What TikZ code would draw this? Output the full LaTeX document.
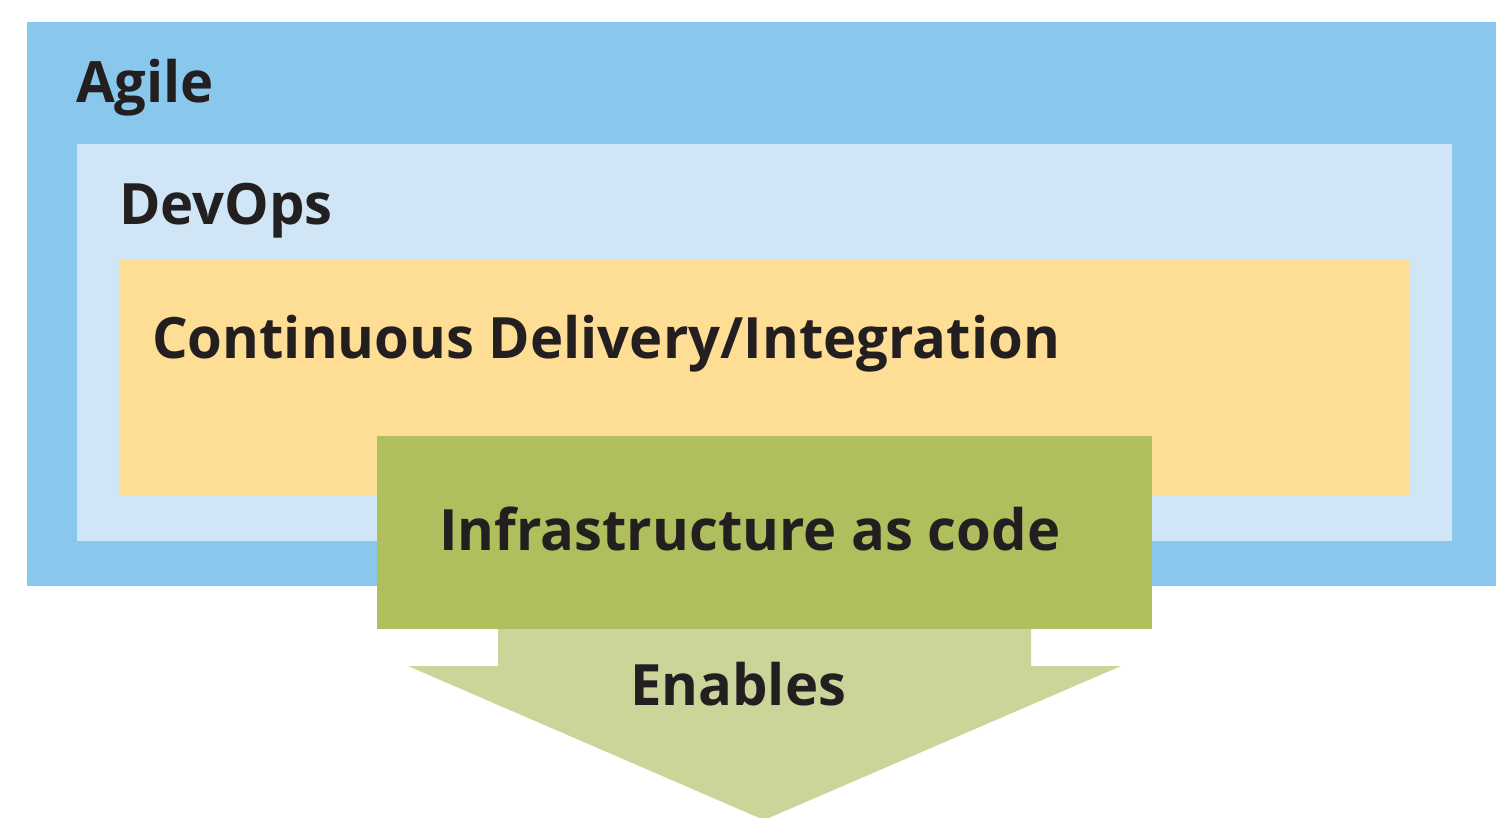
\documentclass[tikz,border=0pt]{standalone}
\usepackage{fontspec}
\setmainfont{Open Sans}[BoldFont={* Bold}]
\definecolor{agileblue}{HTML}{8AC7EC}
\definecolor{devopsblue}{HTML}{D0E6F6}
\definecolor{cdyellow}{HTML}{FEDD95}
\definecolor{iacgreen}{HTML}{B0BF5D}
\definecolor{arrowgreen}{HTML}{CBD59A}
\definecolor{ink}{HTML}{231F20}
\tikzset{
  label text/.style={anchor=base west, inner sep=0pt, text=ink,
    font=\fontsize{57}{68}\selectfont\bfseries, xscale=0.985}
}
\begin{document}
\begin{tikzpicture}[x=1pt,y=-1pt]
  \useasboundingbox (0,0) rectangle (1496,817);
  % nested layers
  \fill[agileblue]  (27,22)   rectangle (1496,586);
  \fill[devopsblue] (77,144)  rectangle (1452,541);
  \fill[cdyellow]   (119,260) rectangle (1410,496);
  % "enables" arrow
  \fill[arrowgreen] (498,620) -- (1031,620) -- (1031,666) -- (1121,666)
    -- (764,820) -- (408,666) -- (498,666) -- cycle;
  \fill[iacgreen]   (377,436) rectangle (1152,629);
  % labels
  \node[label text] (agile)  at (76,102)  {Agile};
  \node[label text] (devops) at (119,224) {DevOps};
  \node[label text] (cdci)   at (152,358) {Continuous Delivery/Integration};
  \node[label text] (iac)    at (439,550) {Infrastructure as code};
  \node[label text] (enab)   at (630,705) {Enables};
\end{tikzpicture}
\end{document}
